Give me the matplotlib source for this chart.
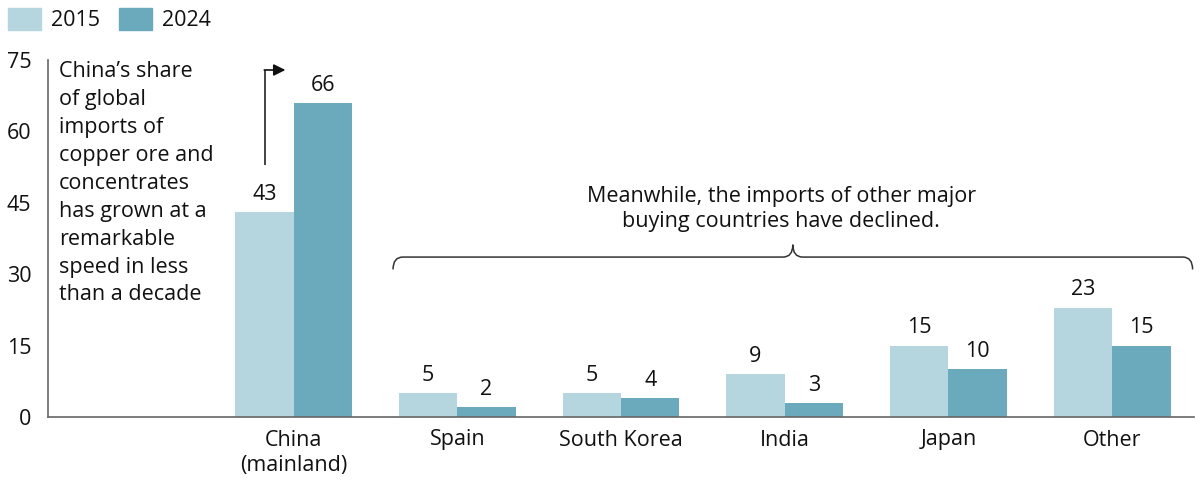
import matplotlib
matplotlib.use("Agg")
import matplotlib.pyplot as plt
from matplotlib.patches import Patch, PathPatch
from matplotlib.path import Path
import numpy as np

plt.rcParams['font.family'] = ['Open Sans', 'DejaVu Sans']

categories = ["", "China\n(mainland)", "Spain", "South Korea", "India", "Japan", "Other"]
share_2015 = [np.nan, 43, 5, 5, 9, 15, 23]
share_2024 = [np.nan, 66, 2, 4, 3, 10, 15]
y_ticks = [0, 15, 30, 45, 60, 75]

c2015 = "#b6d6df"
c2024 = "#6aaabc"
txt = "#111111"
fs = 15.5

fig = plt.figure(figsize=(12.02, 4.83), dpi=100)
ax = fig.add_axes([48/1202, 1 - 417/483, (1194-48)/1202, (417-60)/483])

x = np.arange(len(categories))
w = 0.357
ax.bar(x - w/2, share_2015, w, color=c2015, label="2015")
ax.bar(x + w/2, share_2024, w, color=c2024, label="2024")

for xi, v in zip(x, share_2015):
    if not np.isnan(v):
        ax.text(xi - w/2, v + 1.5, f"{v:g}", ha="center", va="bottom", fontsize=fs, color=txt)
for xi, v in zip(x, share_2024):
    if not np.isnan(v):
        ax.text(xi + w/2, v + 1.5, f"{v:g}", ha="center", va="bottom", fontsize=fs, color=txt)

ax.set_xlim(-0.5, len(categories) - 0.5)
ax.set_ylim(0, 75)
ax.set_yticks(y_ticks)
ax.set_yticklabels([str(t) for t in y_ticks], fontsize=fs, color=txt)
ax.set_xticks(x[1:])
ax.set_xticklabels(categories[1:], fontsize=fs, color=txt, linespacing=1.3)
ax.tick_params(axis="both", length=0)
ax.tick_params(axis="y", pad=12)
ax.tick_params(axis="x", pad=9)
for s in ["top", "right"]:
    ax.spines[s].set_visible(False)
for s in ["left", "bottom"]:
    ax.spines[s].set_color("#666666")
    ax.spines[s].set_linewidth(1.2)

# Side note on China's growth
ax.text(-0.434, 74.7,
        "China\u2019s share\nof global\nimports of\ncopper ore and\nconcentrates\nhas grown at a\nremarkable\nspeed in less\nthan a decade",
        ha="left", va="top", fontsize=fs, color=txt, linespacing=1.43)

# Elbow arrow from the 2015 bar towards the 2024 bar
ax_x = 0.825
ax.plot([ax_x, ax_x], [52.9, 72.9], color="#222222", lw=1.2, solid_capstyle="butt")
ax.annotate("", xy=(0.95, 72.9), xytext=(ax_x - 0.004, 72.9),
            arrowprops=dict(arrowstyle="-|>,head_length=0.7,head_width=0.35",
                            color="#111111", lw=1.2, shrinkA=0, shrinkB=0))

# Curly brace over the other buyers
x0, x1 = (393-130)/163.6, (1192-130)/163.6
xm = (x0 + x1) / 2
yb, yh, yt = 31.0, 33.6, 36.2
d = 0.06
verts = [
    (x0, yb), (x0, yh), (x0 + d, yh),
    (xm - d, yh), (xm, yh), (xm, yt),
    (xm, yh), (xm + d, yh),
    (x1 - d, yh), (x1, yh), (x1, yb),
]
codes = [Path.MOVETO, Path.CURVE3, Path.CURVE3,
         Path.LINETO, Path.CURVE3, Path.CURVE3,
         Path.CURVE3, Path.CURVE3,
         Path.LINETO, Path.CURVE3, Path.CURVE3]
ax.add_patch(PathPatch(Path(verts, codes), fill=False, lw=1.1, ec="#333333"))
ax.text(xm - 0.07, 38.9, "Meanwhile, the imports of other major\nbuying countries have declined.",
        ha="center", va="bottom", fontsize=fs, color=txt, linespacing=1.22)

# Legend
leg = fig.legend(handles=[Patch(color=c2015, label="2015"), Patch(color=c2024, label="2024")],
                 loc="upper left", bbox_to_anchor=(0.0, 1.0), ncol=2, frameon=False,
                 fontsize=fs, handlelength=1.55, handleheight=1.2, handletextpad=0.45,
                 columnspacing=0.9, borderaxespad=0.15, borderpad=0.2)
for t in leg.get_texts():
    t.set_color(txt)

fig.savefig("out.png", dpi=100)
